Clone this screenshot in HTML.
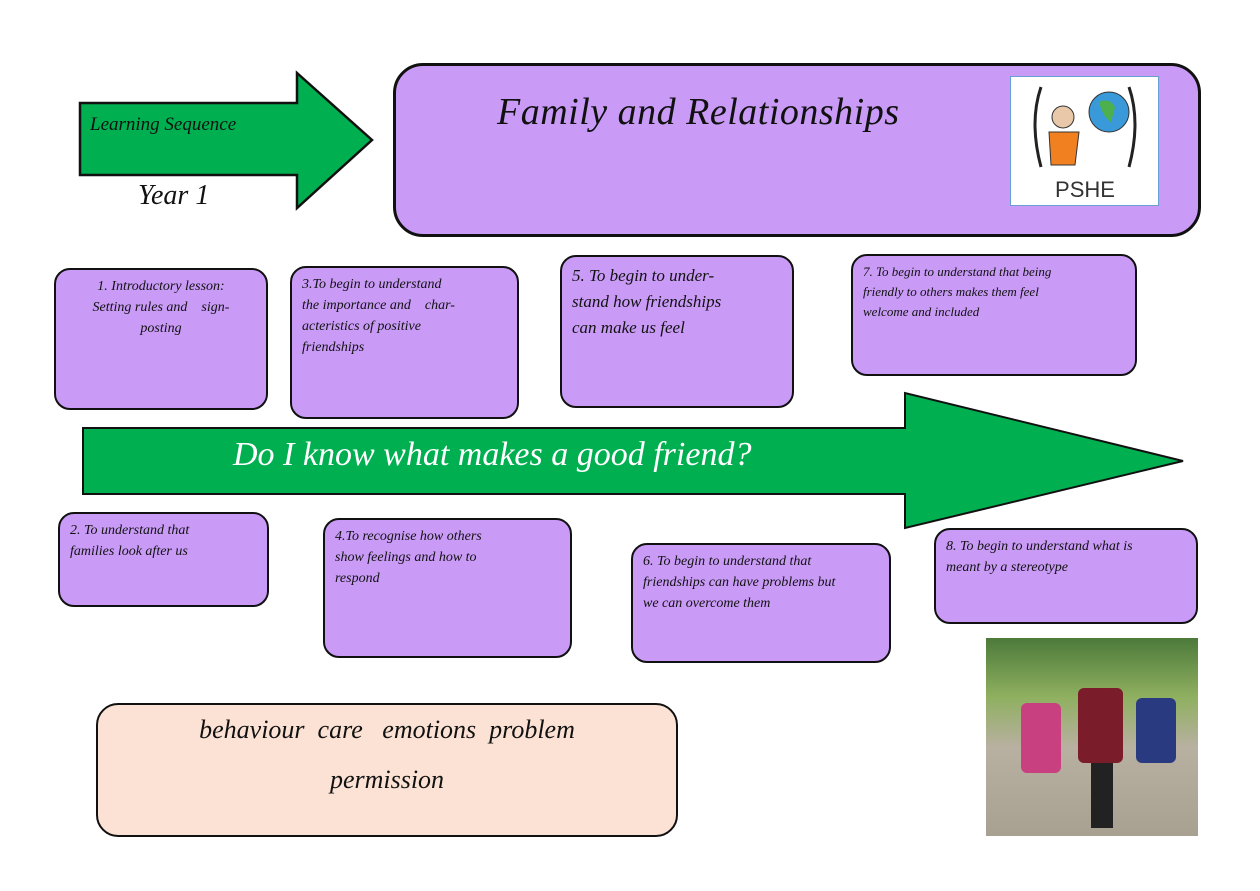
<!DOCTYPE html>
<html><head><meta charset="utf-8"><style>
body{margin:0;width:1260px;height:891px;background:#fff;position:relative;overflow:hidden;font-family:"Liberation Serif",serif;font-style:italic;color:#111}
.b{position:absolute;background:#c99bf7;border:2.5px solid #111;border-radius:16px;box-sizing:border-box;font-size:14px;line-height:21px;padding:6px 10px}
</style></head><body>
<svg width="1260" height="891" style="position:absolute;left:0;top:0">
<polygon points="80,103 297,103 297,73 372,140 297,208 297,175 80,175" fill="#00b050" stroke="#111" stroke-width="2.5"/>
<polygon points="83,428 905,428 905,393 1183,461 905,528 905,494 83,494" fill="#00b050" stroke="#111" stroke-width="2"/>
</svg>
<div style="position:absolute;left:90px;top:114px;font-size:19px">Learning Sequence</div>
<div style="position:absolute;left:138px;top:180px;font-size:28px">Year 1</div>
<div class="b" style="left:393px;top:63px;width:808px;height:174px;border-radius:30px;border-width:3px"></div>
<div style="position:absolute;left:497px;top:90px;font-size:38px;letter-spacing:0.5px">Family and Relationships</div>
<div style="position:absolute;left:1010px;top:76px;width:149px;height:130px;background:#fff;border:1px solid #6a9fd4;box-sizing:border-box">
<svg width="149" height="130"><path d="M30 10 Q18 45 30 90" stroke="#222" stroke-width="3" fill="none"/><path d="M118 10 Q130 45 118 90" stroke="#222" stroke-width="3" fill="none"/>
<circle cx="52" cy="40" r="11" fill="#e8c8a8" stroke="#333"/><polygon points="38,55 68,55 64,88 40,88" fill="#f08020" stroke="#333"/><circle cx="98" cy="35" r="20" fill="#3a9ad9" stroke="#333"/><path d="M88 25 Q98 20 104 30 L100 45 Q92 40 88 25Z" fill="#4cb04c"/>
<text x="74" y="120" text-anchor="middle" font-family="Liberation Sans,sans-serif" font-style="normal" font-size="22" fill="#333">PSHE</text></svg></div>
<div class="b" style="left:54px;top:268px;width:214px;height:142px;text-align:center">1. Introductory lesson:<br>Setting rules and &nbsp;&nbsp; sign-<br>posting</div>
<div class="b" style="left:290px;top:266px;width:229px;height:153px">3.To begin to understand<br>the importance and &nbsp;&nbsp; char-<br>acteristics of positive<br>friendships</div>
<div class="b" style="left:560px;top:255px;width:234px;height:153px;font-size:17px;line-height:26px">5. To begin to under-<br>stand how friendships<br>can make us feel</div>
<div class="b" style="left:851px;top:254px;width:286px;height:122px;font-size:13px;line-height:20px">7. To begin to understand that being<br>friendly to others makes them feel<br>welcome and included</div>
<div style="position:absolute;left:233px;top:436px;font-size:34px;color:#fff">Do I know what makes a good friend?</div>
<div class="b" style="left:58px;top:512px;width:211px;height:95px">2. To understand that<br>families look after us</div>
<div class="b" style="left:323px;top:518px;width:249px;height:140px">4.To recognise how others<br>show feelings and how to<br>respond</div>
<div class="b" style="left:631px;top:543px;width:260px;height:120px">6. To begin to understand that<br>friendships can have problems but<br>we can overcome them</div>
<div class="b" style="left:934px;top:528px;width:264px;height:96px">8. To begin to understand what is<br>meant by a stereotype</div>
<div class="b" style="left:96px;top:703px;width:582px;height:134px;background:#fbe2d4;border-radius:22px;font-size:26px;line-height:50px;text-align:center;padding:0 40px">behaviour &nbsp;care &nbsp;&nbsp;emotions &nbsp;problem<br>permission</div>
<div style="position:absolute;left:986px;top:638px;width:212px;height:198px;background:linear-gradient(180deg,#4c7a3a 0%,#8fb060 30%,#b8b0a0 55%,#a8a090 100%)">
<div style="position:absolute;left:35px;top:65px;width:40px;height:70px;background:#c84080;border-radius:6px"></div>
<div style="position:absolute;left:92px;top:50px;width:45px;height:75px;background:#7a1c2a;border-radius:6px"></div>
<div style="position:absolute;left:150px;top:60px;width:40px;height:65px;background:#2a3a80;border-radius:6px"></div>
<div style="position:absolute;left:105px;top:125px;width:22px;height:65px;background:#222"></div>
</div>
</body></html>
